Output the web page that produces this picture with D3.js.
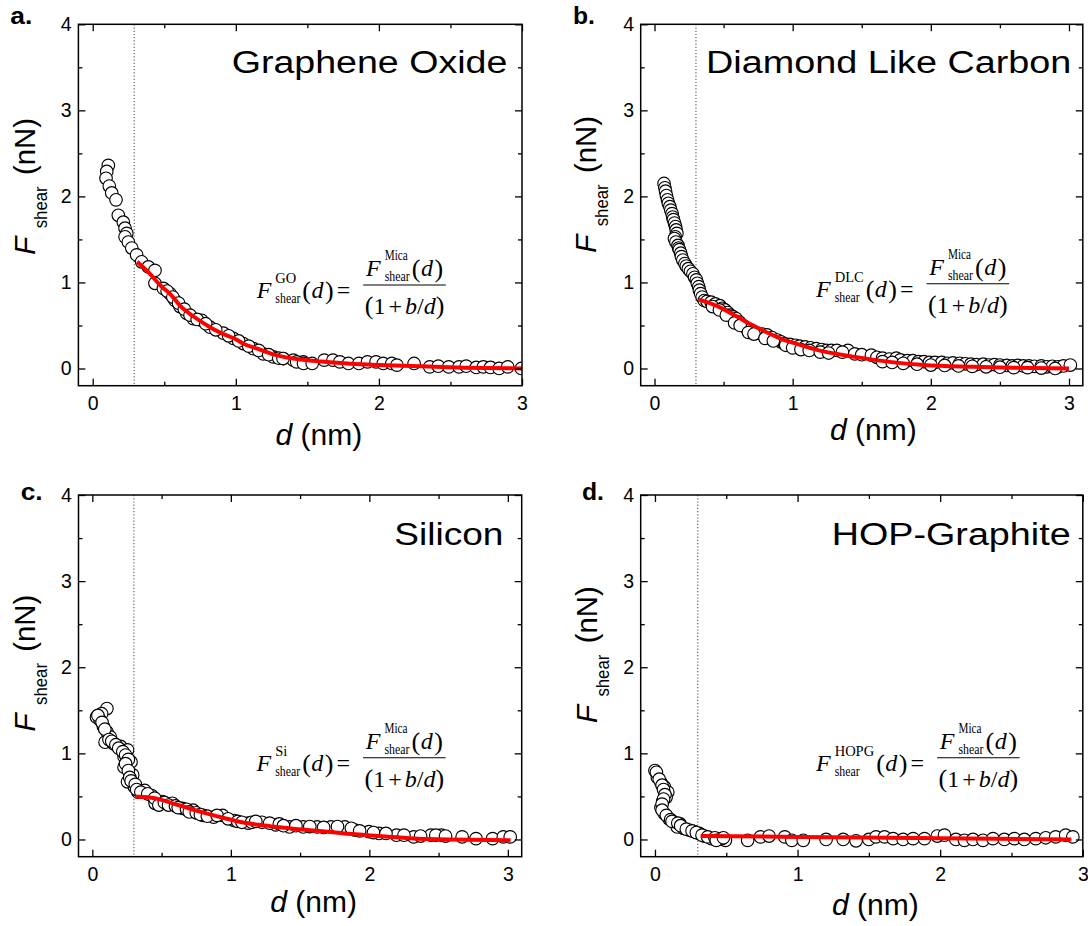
<!DOCTYPE html>
<html><head><meta charset="utf-8">
<script src="https://cdn.jsdelivr.net/npm/d3@7"></script>
<style>html,body{margin:0;padding:0;background:#fff;}svg{display:block;}</style>
</head><body>
<svg id="chart" width="1088" height="926"></svg>
<script>
// ---------------- DATA ----------------
const panelLabels = ["a.", "b.", "c.", "d."];
const titles = ["Graphene Oxide", "Diamond Like Carbon", "Silicon", "HOP-Graphite"];
const eqSup = ["GO", "DLC", "Si", "HOPG"];
const xMajorTicks = [0, 1, 2, 3];
const xMinorTicks = [0.5, 1.5, 2.5];
const yMajorTicks = [0, 1, 2, 3, 4];
const yMinorTicks = [0.5, 1.5, 2.5, 3.5];
const xMaxes = [3.0, 3.1, 3.1, 3.0];
const cutoffD = [0.29, 0.3, 0.3, 0.3];

const dataGO = [
 [0.109,2.36],[0.098,2.29],[0.093,2.21],[0.116,2.12],[0.133,2.04],[0.163,1.96],[0.179,1.78],[0.214,1.70],
 [0.226,1.63],[0.238,1.57],[0.226,1.53],[0.249,1.47],[0.273,1.40],[0.307,1.32],[0.342,1.24],[0.389,1.18],
 [0.435,1.14],[0.435,0.99],[0.494,0.93],[0.54,0.87],[0.575,0.79],[0.61,0.72],[0.657,0.64],[0.703,0.58],
 [0.762,0.56],[0.82,0.48],[0.913,0.41],[0.983,0.35],[1.052,0.29],[1.122,0.23],[1.192,0.17],[1.262,0.135],
 [1.332,0.116],[1.402,0.097],[1.472,0.077],[0.52,0.90],[0.56,0.83],[0.60,0.76],[0.64,0.69],[0.68,0.62],
 [0.73,0.57],[0.79,0.52],[0.86,0.45],[0.95,0.38],[1.02,0.32],[1.09,0.26],[1.16,0.21],[1.23,0.16],[1.30,0.12],
 [1.33,0.116],[1.425,0.077],[1.473,0.058],[1.534,0.058],[1.618,0.097],[1.679,0.097],[1.727,0.077],[1.787,0.058],
 [1.86,0.058],[1.92,0.077],[1.98,0.077],[2.03,0.058],[2.09,0.058],[2.126,0.039],[2.246,0.058],[2.355,0.019],
 [2.415,0.027],[2.488,0.019],[2.56,0.019],[2.61,0.027],[2.68,0.012],[2.73,0.019],[2.78,0.012],[2.84,0.0],
 [2.90,0.019],[2.995,0.0]
];
const fitGO = [
 [0.31,1.24],[0.4,1.10],[0.47,0.97],[0.55,0.85],[0.61,0.73],[0.7,0.61],[0.82,0.48],[0.9,0.41],[1.0,0.34],
 [1.05,0.29],[1.15,0.23],[1.25,0.17],[1.4,0.115],[1.5,0.095],[1.6,0.08],[1.8,0.055],[2.0,0.04],[2.3,0.025],
 [2.6,0.01],[3.0,0.0]
];
const dataDLC = [
 [0.069,2.15],[0.075,2.10],[0.08,2.06],[0.086,2.01],[0.094,1.96],[0.10,1.92],[0.111,1.88],[0.118,1.84],
 [0.127,1.80],[0.132,1.76],[0.137,1.73],[0.145,1.69],[0.152,1.65],[0.157,1.61],[0.162,1.57],[0.15,1.53],
 [0.144,1.51],[0.155,1.47],[0.17,1.43],[0.175,1.40],[0.18,1.38],[0.19,1.34],[0.195,1.30],[0.205,1.26],
 [0.22,1.22],[0.23,1.19],[0.245,1.16],[0.26,1.13],[0.278,1.10],[0.29,1.06],[0.303,1.03],[0.31,0.99],
 [0.32,0.95],[0.325,0.91],[0.334,0.87],[0.345,0.83],[0.36,0.79],[0.38,0.78],[0.41,0.77],[0.44,0.75],
 [0.473,0.73],[0.49,0.70],[0.51,0.68],[0.53,0.65],[0.55,0.62],[0.57,0.60],[0.59,0.58],[0.615,0.54],
 [0.64,0.50],[0.665,0.47],[0.69,0.45],[0.715,0.43],[0.74,0.41],[0.78,0.40],[0.815,0.39],[0.85,0.36],
 [0.89,0.33],[0.915,0.31],[0.94,0.29],[0.98,0.28],[1.02,0.27],[1.05,0.26],[1.09,0.25],[1.13,0.24],
 [1.17,0.23],[1.21,0.22],[1.245,0.21],[1.28,0.21],[1.32,0.21],[1.40,0.21],[1.36,0.19],[1.45,0.17],
 [1.50,0.16],[1.57,0.155],[1.61,0.13],[1.65,0.12],[1.70,0.11],[1.75,0.12],[1.78,0.10],[1.83,0.09],
 [1.87,0.09],[1.91,0.08],[1.95,0.08],[1.99,0.07],[2.03,0.07],[2.08,0.07],[2.12,0.06],[2.16,0.065],
 [2.21,0.06],[2.25,0.055],[2.29,0.05],[2.33,0.045],[2.38,0.05],[2.42,0.04],[2.46,0.045],[2.50,0.04],
 [2.55,0.035],[2.59,0.03],[2.63,0.035],[2.67,0.03],[2.71,0.03],[2.75,0.025],[2.80,0.03],[2.84,0.02],
 [2.88,0.025],[2.92,0.02],[2.96,0.03],[3.01,0.04],
 [0.42,0.72],[0.47,0.68],[0.52,0.62],[0.58,0.53],[0.62,0.50],[0.68,0.42],[0.72,0.40],[0.80,0.35],
 [0.86,0.32],[0.95,0.27],[1.0,0.24],[1.06,0.22],[1.12,0.21],[1.2,0.19],[1.26,0.18],[1.65,0.08],
 [1.72,0.07],[1.8,0.06],[1.9,0.05],[2.0,0.04],[2.1,0.035],[2.2,0.03],[2.3,0.025],[2.4,0.02],
 [2.5,0.015],[2.6,0.01],[2.7,0.01],[2.8,0.005],[2.9,0.0]
];
const fitDLC = [
 [0.32,0.80],[0.4,0.76],[0.5,0.69],[0.6,0.60],[0.7,0.51],[0.8,0.43],[0.94,0.33],[1.0,0.30],[1.19,0.21],
 [1.45,0.135],[1.70,0.077],[1.95,0.04],[2.3,0.02],[2.6,0.01],[3.0,0.0]
];
const dataSi = [
 [0.105,1.52],[0.067,1.46],[0.03,1.42],[0.055,1.39],[0.08,1.31],[0.105,1.25],[0.13,1.19],[0.092,1.13],
 [0.154,1.11],[0.204,1.08],[0.254,1.04],[0.229,0.96],[0.279,0.90],[0.229,0.84],[0.291,0.75],[0.254,0.67],
 [0.304,0.61],[0.329,0.55],[0.378,0.57],[0.428,0.51],[0.453,0.42],[0.503,0.44],[0.578,0.42],[0.652,0.36],
 [0.727,0.34],[0.80,0.28],[0.876,0.26],[0.94,0.28],[1.026,0.22],[1.125,0.19],[1.225,0.20],[1.324,0.17],
 [1.424,0.146],[1.523,0.146],[1.623,0.146],[1.723,0.146],[1.822,0.146],[1.897,0.108],[1.997,0.09],[2.07,0.07],
 [2.196,0.05],[2.32,0.03],[2.445,0.05],[2.52,0.05],[2.67,0.03],[2.77,0.01],[2.89,0.01],[2.967,0.03],[3.017,0.03],
 [0.04,1.44],[0.07,1.36],[0.09,1.28],[0.12,1.16],[0.14,1.14],[0.17,1.10],[0.19,1.06],[0.22,1.02],[0.24,0.98],
 [0.26,0.93],[0.24,0.88],[0.26,0.80],[0.27,0.72],[0.28,0.68],[0.31,0.64],[0.32,0.58],[0.35,0.55],[0.40,0.53],
 [0.45,0.48],[0.48,0.40],[0.52,0.43],[0.55,0.40],[0.60,0.39],[0.62,0.37],[0.68,0.35],[0.70,0.32],[0.75,0.31],
 [0.78,0.29],[0.83,0.27],[0.9,0.28],[0.98,0.24],[1.05,0.21],[1.08,0.20],[1.15,0.20],[1.18,0.21],[1.28,0.19],
 [1.35,0.18],[1.38,0.16],[1.47,0.16],[1.57,0.15],[1.67,0.14],[1.77,0.15],[1.87,0.13],[1.93,0.10],[2.03,0.08],
 [2.12,0.07],[2.25,0.05],[2.37,0.04],[2.48,0.05],[2.55,0.04]
];
const fitSi = [
 [0.31,0.50],[0.4,0.49],[0.5,0.46],[0.58,0.42],[0.7,0.36],[0.83,0.30],[0.95,0.25],[1.08,0.20],[1.2,0.17],
 [1.33,0.146],[1.45,0.125],[1.57,0.108],[1.7,0.09],[1.82,0.07],[1.95,0.055],[2.07,0.04],[2.2,0.025],
 [2.32,0.01],[2.57,0.0],[3.02,-0.01]
];
const dataHOPG = [
 [0.0,0.80],[0.017,0.72],[0.042,0.66],[0.066,0.61],[0.09,0.55],[0.078,0.49],[0.054,0.44],[0.042,0.37],
 [0.066,0.30],[0.098,0.24],[0.139,0.20],[0.176,0.18],[0.156,0.146],[0.20,0.13],[0.237,0.11],[0.274,0.09],
 [0.31,0.07],[0.347,0.04],[0.396,0.01],[0.445,0.0],[0.494,-0.01],
 [0.01,0.78],[0.03,0.70],[0.05,0.63],[0.06,0.58],[0.07,0.52],[0.06,0.47],[0.05,0.41],[0.05,0.34],
 [0.08,0.28],[0.11,0.23],[0.12,0.21],[0.16,0.19],[0.18,0.16],[0.22,0.12],[0.26,0.10],[0.29,0.08],
 [0.33,0.05],[0.37,0.03],[0.42,0.02],[0.47,0.01],[0.43,-0.01],[0.48,0.02],
 [0.65,-0.01],[0.74,0.03],[0.80,0.04],[0.91,0.03],[0.96,-0.01],[1.04,-0.01],[1.20,0.0],[1.32,0.0],
 [1.41,-0.015],[1.50,0.0],[1.55,0.03],[1.61,0.03],[1.67,0.01],[1.74,0.0],[1.81,0.01],[1.89,0.01],
 [1.98,0.04],[2.03,0.05],[2.11,0.0],[2.17,-0.01],[2.23,0.0],[2.30,-0.01],[2.37,0.01],[2.45,0.0],
 [2.52,0.01],[2.59,0.0],[2.67,0.01],[2.74,0.02],[2.81,0.03],[2.88,0.05],[2.93,0.03]
];
const fitHOPG = [[0.32,0.04],[1.0,0.03],[2.0,0.015],[2.92,0.0]];

const seriesData = [dataGO, dataDLC, dataSi, dataHOPG];
const seriesFit = [fitGO, fitDLC, fitSi, fitHOPG];

// ---------------- LAYOUT ----------------
const layout = [
 {left:78.4, right:522, top:24.3, bottom:385.7, lab:[10.3,24.3], title:[231.7,507.3,73], xl:[275.5,445], yl:[34.5,255], eq:[256.7,298.3]},
 {left:640.7, right:1082.8, top:24.3, bottom:385.7, lab:[573,24.3], title:[706,1071.3,73], xl:[830,440], yl:[596,253], eq:[816,297]},
 {left:78.5, right:521.7, top:495, bottom:856.7, lab:[20.7,500], title:[394.3,503.4,545], xl:[270.3,911.7], yl:[34.5,731.7], eq:[256.5,771]},
 {left:640.7, right:1082.8, top:495, bottom:856.7, lab:[582,500], title:[831.8,1070.6,545], xl:[832,915], yl:[597,723.3], eq:[816,771]}
];
const SANS = "'Liberation Sans', Arial, Helvetica, sans-serif";
const SERIF = "'Liberation Serif', 'Times New Roman', Times, serif";

const svg = d3.select("#chart");

function drawEquation(root, x0, y0, sup) {
  // text piece; if len is given the glyphs are compressed to that width via a transform
  function t(g, str, x, y, size, italic, len) {
    const el = g.append("text").attr("x", x).attr("y", y)
      .attr("font-family", SERIF).attr("font-size", size)
      .attr("font-style", italic ? "italic" : "normal").attr("fill", "#000").text(str);
    const w = el.node().getComputedTextLength();
    if (len && len < w) {
      el.attr("x", 0).attr("y", 0).attr("transform", `translate(${x},${y}) scale(${len / w},1)`);
      return len;
    }
    return w;
  }
  function fBlock(g, x, y, supText, supLen) {
    const wF = t(g, "F", x, y, 24, true);
    const sx = x + wF + 4;
    const ws = t(g, supText, sx, y - 15.5, 14.5, false, supLen);
    const wb = t(g, "shear", sx, y + 5, 14.5, false, 25);
    let cx = sx + Math.max(ws, wb) + 2;
    cx += t(g, "(", cx, y + 1, 26, false) + 0.5;
    cx += t(g, "d", cx, y, 24, true) + 1.5;
    cx += t(g, ")", cx, y + 1, 26, false);
    return cx - x;
  }
  let cx = x0 + fBlock(root, x0, y0, sup, null);
  cx += 3;
  cx += t(root, "=", cx, y0, 24, false);
  const fx = cx + 13;
  const numG = root.append("g");
  const numW = fBlock(numG, 0, y0 - 22.5, "Mica", 23);
  const denT = root.append("text").attr("y", y0 + 15.5).attr("font-family", SERIF).attr("font-size", 24).attr("fill", "#000");
  denT.append("tspan").attr("font-size", 26).text("(");
  denT.append("tspan").text("1");
  denT.append("tspan").attr("dx", 3).text("+");
  denT.append("tspan").attr("dx", 3).attr("font-style", "italic").text("b");
  denT.append("tspan").text("/");
  denT.append("tspan").attr("font-style", "italic").text("d");
  denT.append("tspan").attr("font-size", 26).text(")");
  const denW = denT.node().getComputedTextLength() + 6;
  const fracW = Math.max(numW, denW) + 3;
  numG.attr("transform", `translate(${fx + (fracW - numW) / 2},0)`);
  denT.attr("x", fx + (fracW - denW) / 2);
  root.append("line").attr("x1", fx).attr("x2", fx + fracW)
    .attr("y1", y0 - 13.3).attr("y2", y0 - 13.3).attr("stroke", "#000").attr("stroke-width", 1.1);
}

layout.forEach((L, i) => {
  const g = svg.append("g");
  const x = d3.scaleLinear().domain([-0.1, xMaxes[i]]).range([L.left, L.right]);
  const y = d3.scaleLinear().domain([-0.2, 4]).range([L.bottom, L.top]);

  const clipId = "clip" + i;
  svg.append("clipPath").attr("id", clipId).append("rect")
    .attr("x", L.left).attr("y", L.top).attr("width", L.right - L.left).attr("height", L.bottom - L.top);

  // dotted cutoff line
  g.append("line").attr("x1", x(cutoffD[i])).attr("x2", x(cutoffD[i]))
    .attr("y1", L.top).attr("y2", L.bottom)
    .attr("stroke", "#555").attr("stroke-width", 1.1).attr("stroke-dasharray", "1.2,2");

  // scatter
  const pts = g.append("g").attr("clip-path", `url(#${clipId})`);
  pts.selectAll("circle").data(seriesData[i]).join("circle")
    .attr("cx", d => x(d[0])).attr("cy", d => y(d[1])).attr("r", 6.3)
    .attr("fill", "#fff").attr("stroke", "#000").attr("stroke-width", 1.15);

  // fit line
  const line = d3.line().x(d => x(d[0])).y(d => y(d[1])).curve(d3.curveMonotoneX);
  g.append("path").attr("clip-path", `url(#${clipId})`).datum(seriesFit[i]).attr("d", line)
    .attr("fill", "none").attr("stroke", "#ff0000").attr("stroke-width", 4).attr("stroke-linecap", "butt");

  // axes
  const axStyle = sel => {
    sel.select(".domain").remove();
    sel.selectAll(".tick line").attr("stroke", "#000").attr("stroke-width", 1.3);
    sel.selectAll("text").attr("font-family", SANS).attr("font-size", 19.5).attr("fill", "#000");
  };
  g.append("g").attr("transform", `translate(0,${L.bottom})`)
    .call(d3.axisBottom(x).tickValues(xMajorTicks).tickSize(-7).tickPadding(10).tickFormat(d3.format("d"))).call(axStyle);
  g.append("g").attr("transform", `translate(0,${L.bottom})`)
    .call(d3.axisBottom(x).tickValues(xMinorTicks).tickSize(-4).tickFormat("")).call(axStyle);
  g.append("g").attr("transform", `translate(0,${L.top})`)
    .call(d3.axisTop(x).tickValues(xMajorTicks).tickSize(-7).tickFormat("")).call(axStyle);
  g.append("g").attr("transform", `translate(0,${L.top})`)
    .call(d3.axisTop(x).tickValues(xMinorTicks).tickSize(-4).tickFormat("")).call(axStyle);
  g.append("g").attr("transform", `translate(${L.left},0)`)
    .call(d3.axisLeft(y).tickValues(yMajorTicks).tickSize(-7).tickPadding(6.7).tickFormat(d3.format("d"))).call(axStyle);
  g.append("g").attr("transform", `translate(${L.left},0)`)
    .call(d3.axisLeft(y).tickValues(yMinorTicks).tickSize(-4).tickFormat("")).call(axStyle);
  g.append("g").attr("transform", `translate(${L.right},0)`)
    .call(d3.axisRight(y).tickValues(yMajorTicks).tickSize(-7).tickFormat("")).call(axStyle);
  g.append("g").attr("transform", `translate(${L.right},0)`)
    .call(d3.axisRight(y).tickValues(yMinorTicks).tickSize(-4).tickFormat("")).call(axStyle);

  // frame
  g.append("rect").attr("x", L.left).attr("y", L.top)
    .attr("width", L.right - L.left).attr("height", L.bottom - L.top)
    .attr("fill", "none").attr("stroke", "#000").attr("stroke-width", 1.5);

  // panel label
  g.append("text").attr("x", L.lab[0]).attr("y", L.lab[1])
    .attr("font-family", SANS).attr("font-weight", "bold").attr("font-size", 24)
    .attr("textLength", 22).attr("lengthAdjust", "spacingAndGlyphs").text(panelLabels[i]);

  // title
  g.append("text").attr("x", L.title[0]).attr("y", L.title[2])
    .attr("font-family", SANS).attr("font-size", 31)
    .attr("textLength", L.title[1] - L.title[0]).attr("lengthAdjust", "spacingAndGlyphs")
    .text(titles[i]);

  // x label
  const xl = g.append("text").attr("x", L.xl[0]).attr("y", L.xl[1])
    .attr("font-family", SANS).attr("font-size", 30);
  xl.append("tspan").attr("font-style", "italic").text("d");
  xl.append("tspan").text(" (nm)");

  // y label (rotated)
  const yg = g.append("g").attr("transform", `translate(${L.yl[0]},${L.yl[1]}) rotate(-90)`);
  yg.append("text").attr("x", 0).attr("y", 0).attr("font-family", SANS)
    .attr("font-size", 30).attr("font-style", "italic").text("F");
  yg.append("text").attr("x", 26.7).attr("y", 12).attr("font-family", SANS)
    .attr("font-size", 18).attr("textLength", 42).attr("lengthAdjust", "spacingAndGlyphs").text("shear");
  yg.append("text").attr("x", 80).attr("y", 0).attr("font-family", SANS)
    .attr("font-size", 29).attr("textLength", 57).attr("lengthAdjust", "spacingAndGlyphs").text("(nN)");

  // equation
  drawEquation(g.append("g"), L.eq[0], L.eq[1], eqSup[i]);
});
</script>
</body></html>
